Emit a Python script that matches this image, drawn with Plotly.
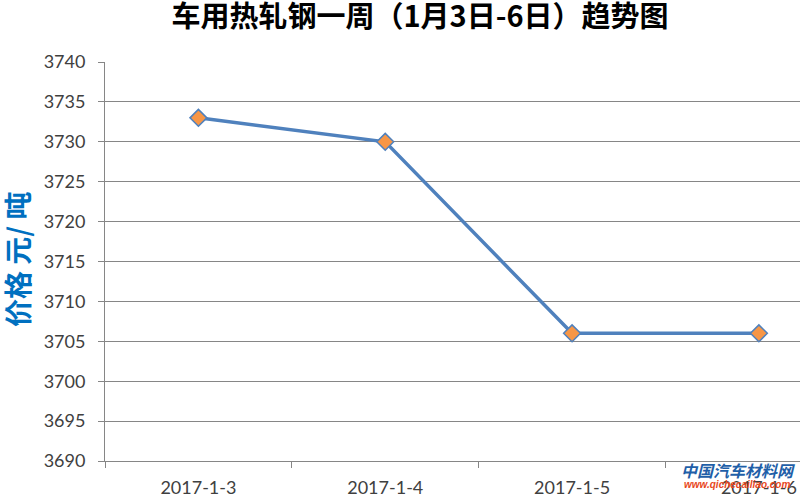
import plotly.graph_objects as go

dates = ["2017-1-3", "2017-1-4", "2017-1-5", "2017-1-6"]
prices = [3733, 3730, 3706, 3706]
y_ticks = [3690, 3695, 3700, 3705, 3710, 3715, 3720, 3725, 3730, 3735, 3740]

fig = go.Figure()
fig.add_trace(go.Scatter(
    x=dates, y=prices, mode="lines+markers",
    line=dict(color="#4F81BD", width=3.5),
    marker=dict(symbol="diamond", size=13, color="#F79646",
                line=dict(color="#4F81BD", width=1.5)),
    showlegend=False,
))

fig.update_layout(
    width=800, height=494,
    margin=dict(l=105, r=0, t=62, b=33),
    paper_bgcolor="white", plot_bgcolor="white",
    title=dict(text="<b>车用热轧钢一周（1月3日-6日）趋势图</b>",
               x=420/800, xanchor="center", y=1-17/494, yanchor="middle",
               font=dict(family="Noto Sans CJK SC", size=29, color="black")),
    font=dict(family="Lato, Open Sans, sans-serif", size=18, color="#404040"),
)
fig.update_xaxes(
    type="category", range=[-0.5, 3.22], automargin=False,
    showline=True, linecolor="#868686", linewidth=1,
    ticks="outside", tickson="boundaries", ticklen=6, tickcolor="#868686",
    showgrid=False, tickfont=dict(size=18, color="#404040"),
    ticklabelstandoff=10,
)
fig.update_yaxes(
    range=[3690, 3740], tickvals=y_ticks, automargin=False,
    showline=True, linecolor="#868686", linewidth=1,
    ticks="outside", ticklen=6, tickcolor="#868686",
    showgrid=True, gridcolor="#868686", gridwidth=1,
    zeroline=False, tickfont=dict(size=18, color="#404040"),
    ticklabelstandoff=9,
)
fig.add_annotation(
    text="<b>价格 元/ 吨</b>", textangle=-90,
    xref="paper", yref="paper", x=-88/695, y=1-(259-62)/399,
    xanchor="center", yanchor="middle", showarrow=False,
    font=dict(family="Noto Sans CJK SC", size=28, color="#0070C0"),
)
# watermark
fig.add_annotation(
    text="<b><i>中国汽车材料网</i></b>", xref="paper", yref="paper",
    x=(738-105)/695, y=-(470-461)/399, xanchor="center", yanchor="middle",
    showarrow=False, font=dict(family="Noto Sans CJK SC", size=16, color="#1F5FA8"),
)
fig.add_annotation(
    text="<b><i>www.qichecailiao.com</i></b>", xref="paper", yref="paper",
    x=(737-105)/695, y=-(484-461)/399, xanchor="center", yanchor="middle",
    showarrow=False, font=dict(family="Liberation Sans", size=10, color="#E8481C"),
)

fig.write_html("out.html", config={"displayModeBar": False},
               post_script="document.body.style.margin='0';document.body.style.overflow='hidden';")
